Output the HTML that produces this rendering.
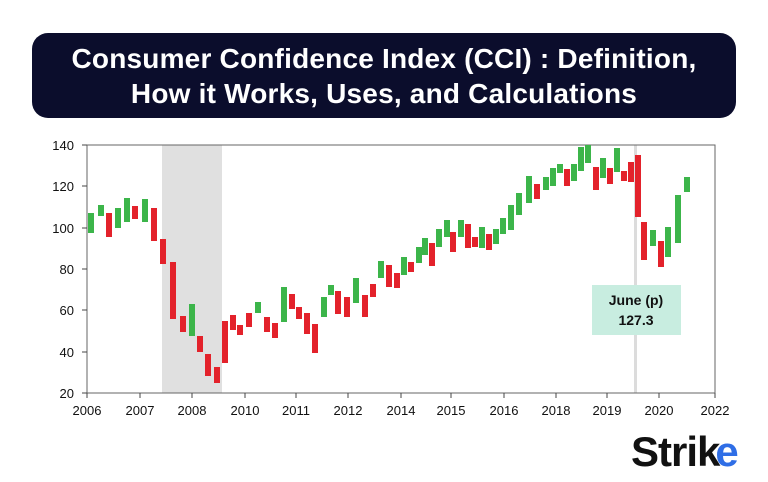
<!DOCTYPE html>
<html><head><meta charset="utf-8"><style>
html,body{margin:0;padding:0;background:#fff;}
body{width:768px;height:482px;overflow:hidden;position:relative;font-family:"Liberation Sans",sans-serif;}
.title{position:absolute;left:32px;top:33px;width:704px;height:85px;background:#0b0d2c;border-radius:16px;color:#fff;font-weight:bold;font-size:28px;line-height:35px;text-align:center;padding-top:8px;box-sizing:border-box;letter-spacing:0.2px;white-space:nowrap;}
</style></head><body>
<div class="title">Consumer Confidence Index (CCI) : Definition,<br>How it Works, Uses, and Calculations</div>
<svg width="768" height="482" style="position:absolute;left:0;top:0" xmlns="http://www.w3.org/2000/svg">
<rect x="162" y="145" width="60" height="248" fill="#e0e0e0"/>
<rect x="634" y="145" width="3" height="248" fill="#dcdcdc"/>
<rect x="87" y="145" width="628" height="248" fill="none" stroke="#666" stroke-width="1"/>
<g font-size="13" fill="#111" text-anchor="end" font-family="Liberation Sans,sans-serif">
<text x="74" y="150">140</text><text x="74" y="191">120</text><text x="74" y="233">100</text><text x="74" y="274">80</text><text x="74" y="315">60</text><text x="74" y="357">40</text><text x="74" y="398">20</text>
</g>
<g stroke="#444" stroke-width="1">
<line x1="82" y1="145" x2="87" y2="145"/><line x1="82" y1="186" x2="87" y2="186"/><line x1="82" y1="228" x2="87" y2="228"/><line x1="82" y1="269" x2="87" y2="269"/><line x1="82" y1="310" x2="87" y2="310"/><line x1="82" y1="352" x2="87" y2="352"/><line x1="82" y1="393" x2="87" y2="393"/>
<line x1="87" y1="393" x2="87" y2="398"/><line x1="140" y1="393" x2="140" y2="398"/><line x1="192" y1="393" x2="192" y2="398"/><line x1="245" y1="393" x2="245" y2="398"/><line x1="296" y1="393" x2="296" y2="398"/><line x1="348" y1="393" x2="348" y2="398"/><line x1="401" y1="393" x2="401" y2="398"/><line x1="451" y1="393" x2="451" y2="398"/><line x1="504" y1="393" x2="504" y2="398"/><line x1="556" y1="393" x2="556" y2="398"/><line x1="607" y1="393" x2="607" y2="398"/><line x1="659" y1="393" x2="659" y2="398"/><line x1="715" y1="393" x2="715" y2="398"/>
</g>
<g font-size="13" fill="#111" text-anchor="middle" font-family="Liberation Sans,sans-serif">
<text x="87" y="415">2006</text><text x="140" y="415">2007</text><text x="192" y="415">2008</text><text x="245" y="415">2010</text><text x="296" y="415">2011</text><text x="348" y="415">2012</text><text x="401" y="415">2014</text><text x="451" y="415">2015</text><text x="504" y="415">2016</text><text x="556" y="415">2018</text><text x="607" y="415">2019</text><text x="659" y="415">2020</text><text x="715" y="415">2022</text>
</g>
<g id="c"></g>
<rect x="592" y="285" width="89" height="50" fill="#c8ede0"/>
<text x="636" y="305" font-size="14" font-weight="bold" text-anchor="middle" fill="#111">June (p)</text>
<text x="636" y="325" font-size="14" font-weight="bold" text-anchor="middle" fill="#111">127.3</text>
<text x="631" y="466" font-size="42" font-weight="bold" fill="#111" letter-spacing="-1">Strik<tspan fill="#2f6ee6" dx="-4">e</tspan></text>
</svg>
<script>
var d=[[91,213,233,'g'],[101,205,216,'g'],[109,213,237,'r'],[118,208,228,'g'],[127,198,222,'g'],[135,206,219,'r'],[145,199,222,'g'],[154,208,241,'r'],[163,239,264,'r'],[173,262,319,'r'],[183,316,332,'r'],[192,304,336,'g'],[200,336,352,'r'],[208,354,376,'r'],[217,367,383,'r'],[225,321,363,'r'],[233,315,330,'r'],[240,325,335,'r'],[249,313,327,'r'],[258,302,313,'g'],[267,317,332,'r'],[275,323,338,'r'],[284,287,322,'g'],[292,294,309,'r'],[299,307,319,'r'],[307,313,334,'r'],[315,324,353,'r'],[324,297,317,'g'],[331,285,295,'g'],[338,291,314,'r'],[347,297,317,'r'],[356,278,303,'g'],[365,295,317,'r'],[373,284,297,'r'],[381,261,278,'g'],[389,265,287,'r'],[397,273,288,'r'],[404,257,275,'g'],[411,262,272,'r'],[419,247,263,'g'],[425,238,255,'g'],[432,243,266,'r'],[439,229,247,'g'],[447,220,237,'g'],[453,232,252,'r'],[461,220,237,'g'],[468,224,248,'r'],[475,237,247,'r'],[482,227,248,'g'],[489,234,250,'r'],[496,229,244,'g'],[503,218,234,'g'],[511,205,230,'g'],[519,193,215,'g'],[529,176,203,'g'],[537,184,199,'r'],[546,177,190,'g'],[553,168,186,'g'],[560,164,173,'g'],[567,169,186,'r'],[574,164,181,'g'],[581,147,171,'g'],[588,145,163,'g'],[596,167,190,'r'],[603,158,178,'g'],[610,168,184,'r'],[617,148,172,'g'],[624,171,181,'r'],[631,162,182,'r'],[638,155,217,'r'],[644,222,260,'r'],[653,230,246,'g'],[661,241,267,'r'],[668,227,257,'g'],[678,195,243,'g'],[687,177,192,'g']];
var s='';d.forEach(function(b){s+='<rect x="'+(b[0]-3)+'" y="'+b[1]+'" width="6" height="'+(b[2]-b[1])+'" fill="'+(b[3]=='g'?'#3cb54a':'#e3222b')+'"/>';});
document.getElementById('c').innerHTML=s;
</script>
</body></html>
